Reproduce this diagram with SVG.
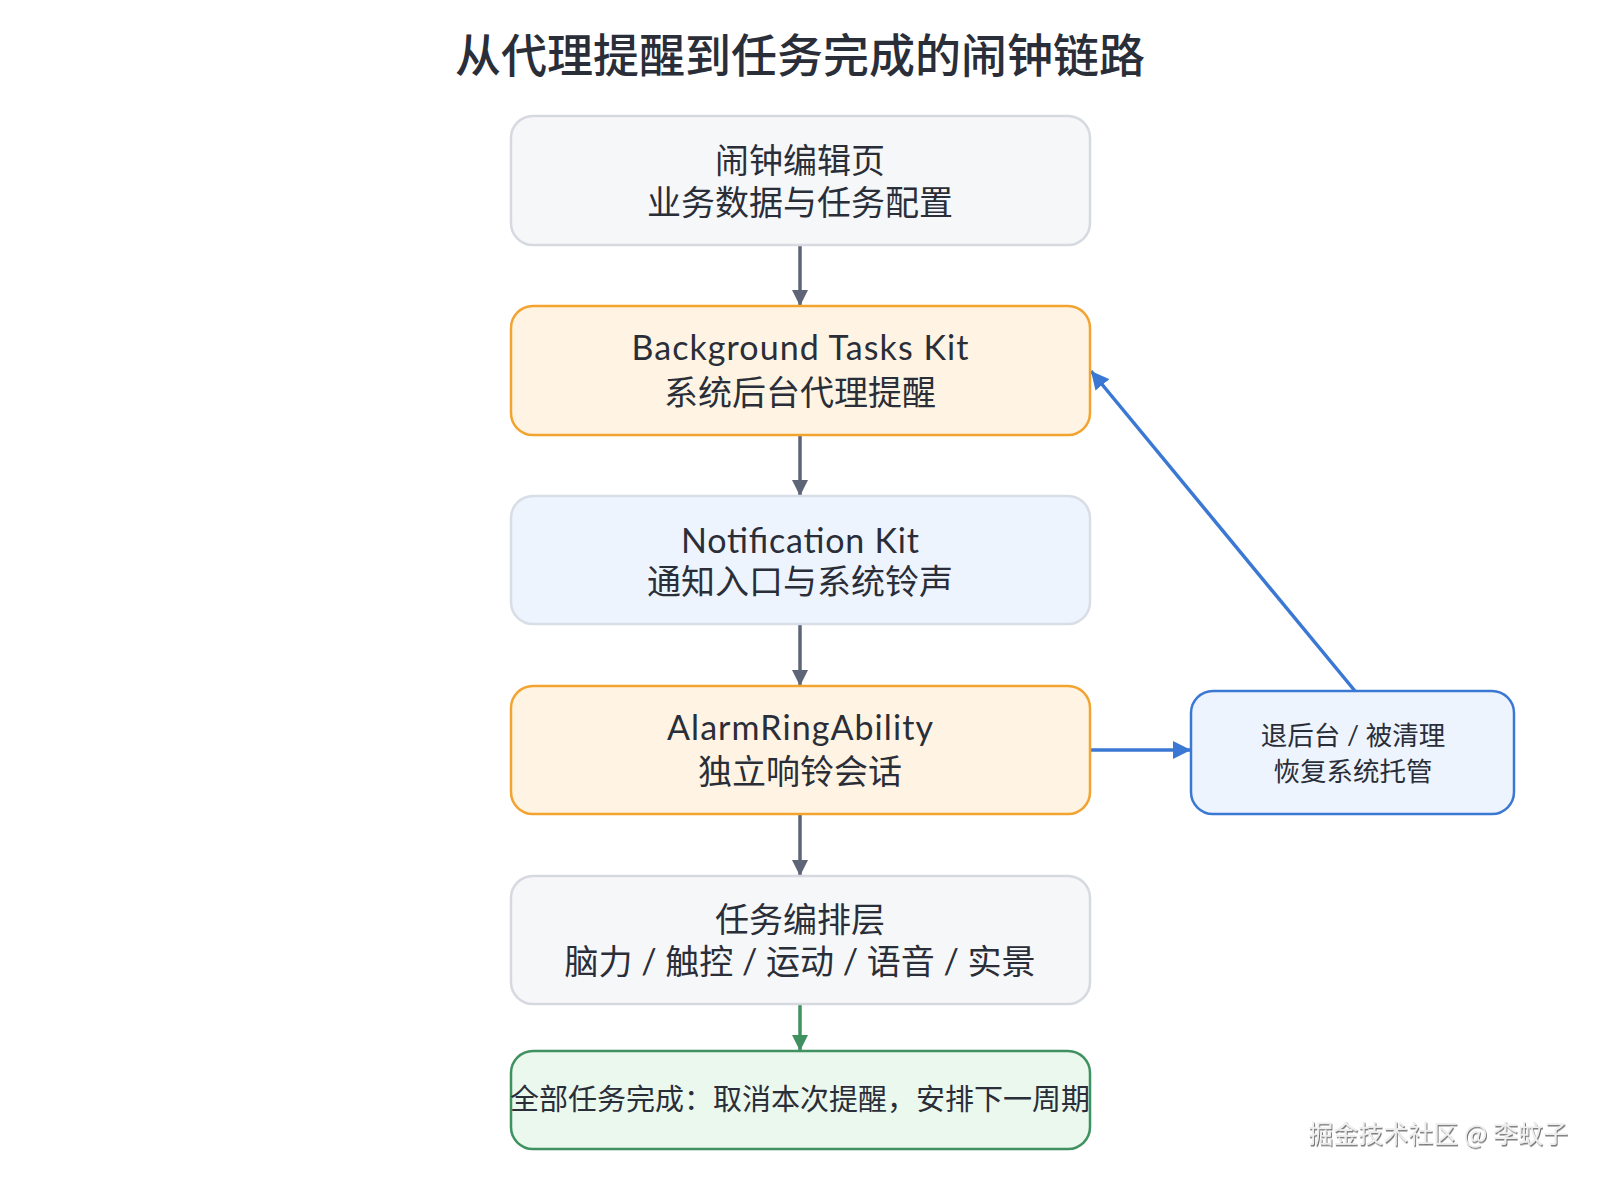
<svg xmlns="http://www.w3.org/2000/svg" width="1600" height="1180" viewBox="0 0 1600 1180">
<defs>
<style>
.t{font-family:"Lato","Noto Sans CJK SC",sans-serif;fill:#2a2e38;text-anchor:middle}
.n{font-size:34px}
.s{font-size:26.5px}
.g{fill:#f6f7f9;stroke:#d6d9e0;stroke-width:2.5}
.o{fill:#fff4e3;stroke:#f2a330;stroke-width:2.5}
.b{fill:#eef4fd;stroke:#d8dde6;stroke-width:2.5}
.bb{fill:#eef4fd;stroke:#3a78d4;stroke-width:2.5}
.gr{fill:#ebf8ee;stroke:#3f9160;stroke-width:2.5}
.c{fill:none;stroke-width:3.5}
</style>
<marker id="ag" markerUnits="userSpaceOnUse" markerWidth="16" markerHeight="16" refX="16" refY="8" orient="auto"><path d="M0,0 L16,8 L0,16 Z" fill="#5e6577"/></marker>
<marker id="ab" markerUnits="userSpaceOnUse" markerWidth="18" markerHeight="18" refX="18" refY="9" orient="auto"><path d="M0,0 L18,9 L0,18 Z" fill="#3a78d4"/></marker>
<marker id="agr" markerUnits="userSpaceOnUse" markerWidth="16" markerHeight="16" refX="16" refY="8" orient="auto"><path d="M0,0 L16,8 L0,16 Z" fill="#3f9160"/></marker>
<filter id="sh" x="-5%" y="-20%" width="110%" height="150%"><feDropShadow dx="1" dy="1.5" stdDeviation="0.6" flood-color="#666" flood-opacity="0.9"/></filter>
</defs>
<rect width="1600" height="1180" fill="#ffffff"/>
<text class="t" x="800" y="72" style="font-size:46px;font-weight:500" fill="#262a34">从代理提醒到任务完成的闹钟链路</text>

<g id="connectors">
<line class="c" x1="800" y1="245" x2="800" y2="306" stroke="#5e6577" marker-end="url(#ag)"/>
<line class="c" x1="800" y1="435" x2="800" y2="496" stroke="#5e6577" marker-end="url(#ag)"/>
<line class="c" x1="800" y1="624" x2="800" y2="686" stroke="#5e6577" marker-end="url(#ag)"/>
<line class="c" x1="800" y1="814" x2="800" y2="876" stroke="#5e6577" marker-end="url(#ag)"/>
<line class="c" x1="800" y1="1004" x2="800" y2="1051" stroke="#3f9160" marker-end="url(#agr)"/>
<line class="c" x1="1090" y1="750" x2="1191" y2="750" stroke="#3a78d4" marker-end="url(#ab)"/>
<line class="c" x1="1355" y1="691" x2="1091" y2="371" stroke="#3a78d4" marker-end="url(#ab)"/>
</g>

<g id="node-edit">
<rect class="g" x="511" y="116" width="579" height="129" rx="22"/>
<text class="t n" x="800" y="173">闹钟编辑页</text>
<text class="t n" x="800" y="215">业务数据与任务配置</text>
</g>
<g id="node-bgtasks">
<rect class="o" x="511" y="306" width="579" height="129" rx="22"/>
<text class="t n" x="800" y="360" textLength="337" lengthAdjust="spacing">Background Tasks Kit</text>
<text class="t n" x="800" y="405">系统后台代理提醒</text>
</g>
<g id="node-notification">
<rect class="b" x="511" y="496" width="579" height="128" rx="22"/>
<text class="t n" x="800" y="553" textLength="238" lengthAdjust="spacing">Notification Kit</text>
<text class="t n" x="800" y="594">通知入口与系统铃声</text>
</g>
<g id="node-alarmring">
<rect class="o" x="511" y="686" width="579" height="128" rx="22"/>
<text class="t n" x="800" y="740" textLength="266" lengthAdjust="spacing">AlarmRingAbility</text>
<text class="t n" x="800" y="784">独立响铃会话</text>
</g>
<g id="node-tasks">
<rect class="g" x="511" y="876" width="579" height="128" rx="22"/>
<text class="t n" x="800" y="932">任务编排层</text>
<text class="t n" x="800" y="974">脑力 / 触控 / 运动 / 语音 / 实景</text>
</g>
<g id="node-done">
<rect class="gr" x="511" y="1051" width="579" height="98" rx="22"/>
<text class="t" x="800" y="1110" style="font-size:29px">全部任务完成：取消本次提醒，安排下一周期</text>
</g>
<g id="node-restore">
<rect class="bb" x="1191" y="691" width="323" height="123" rx="22"/>
<text class="t s" x="1353" y="745">退后台 / 被清理</text>
<text class="t s" x="1353" y="781">恢复系统托管</text>
</g>
<text x="1568" y="1143" filter="url(#sh)" style="font-family:'Noto Sans CJK SC',sans-serif;font-size:25px;text-anchor:end" fill="#eeeeee">掘金技术社区 @ 李蚊子</text>
</svg>
